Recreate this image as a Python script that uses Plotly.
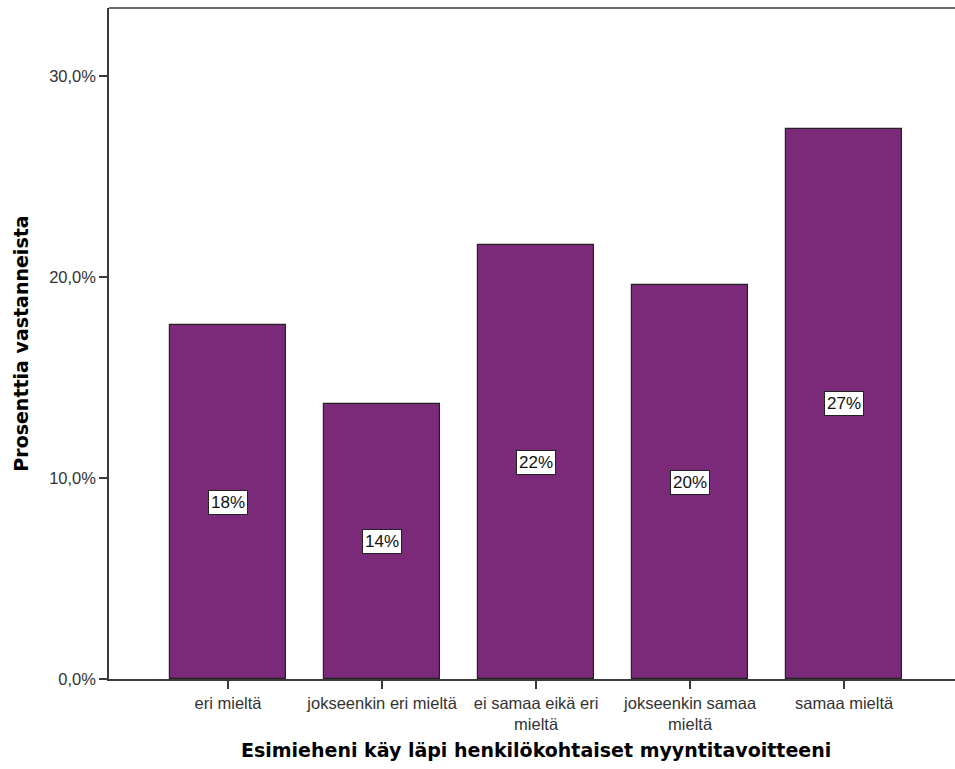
import plotly.graph_objects as go

# Survey answers: share of respondents per answer option (%)
categories = [
    "eri mieltä",
    "jokseenkin eri mieltä",
    "ei samaa eikä eri<br>mieltä",
    "jokseenkin samaa<br>mieltä",
    "samaa mieltä",
]
percentages = [17.6, 13.7, 21.6, 19.6, 27.4]

y_tick_values = [0, 10, 20, 30]
y_tick_labels = ["0,0%", "10,0%", "20,0%", "30,0%"]

x_title = "Esimieheni käy läpi henkilökohtaiset myyntitavoitteeni"
y_title = "Prosenttia vastanneista"

BAR_COLOR = "#7b2979"
AXIS_COLOR = "#3a3a3a"
TICK_FONT = dict(family="Liberation Sans, Arial, sans-serif", size=16.5, color="#333333")
TITLE_FONT = dict(family="DejaVu Sans, Verdana, sans-serif", size=19, color="#000000")

x_pos = list(range(len(categories)))

fig = go.Figure()
fig.add_trace(go.Bar(
    x=x_pos,
    y=percentages,
    width=0.753,
    marker=dict(color=BAR_COLOR, line=dict(color="#222222", width=1.2)),
    hoverinfo="skip",
))

# value labels in white boxes, centred on each bar
for xi, v in zip(x_pos, percentages):
    fig.add_annotation(
        x=xi, y=v / 2, xref="x", yref="y",
        text=f"{round(v):d}%",
        showarrow=False,
        font=dict(family="Liberation Sans, Arial, sans-serif", size=17, color="#111111"),
        bgcolor="white", bordercolor="#222222", borderwidth=1, borderpad=2,
    )

# axis titles
fig.add_annotation(
    x=2, y=-0.106, xref="x", yref="paper",
    text=f"<b>{x_title}</b>", showarrow=False,
    xanchor="center", yanchor="middle", font=TITLE_FONT,
)
fig.add_annotation(
    x=-0.105, y=0.5, xref="paper", yref="paper",
    text=f"<b>{y_title}</b>", showarrow=False, textangle=-90,
    xanchor="center", yanchor="middle", font=TITLE_FONT,
)

# top frame line of the plot area
fig.add_shape(type="line", xref="paper", yref="paper",
              x0=0, x1=1, y0=1, y1=1,
              line=dict(color=AXIS_COLOR, width=1.5))

fig.update_layout(
    width=955, height=769,
    margin=dict(l=109, r=0, t=8, b=90),
    paper_bgcolor="white", plot_bgcolor="white",
    showlegend=False,
    bargap=0,
    xaxis=dict(
        range=[-0.773, 4.72],
        tickvals=x_pos, ticktext=categories,
        ticks="outside", ticklen=8, tickwidth=1.5, tickcolor=AXIS_COLOR,
        showline=True, linecolor=AXIS_COLOR, linewidth=1.5,
        showgrid=False, zeroline=False,
        tickfont=TICK_FONT,
    ),
    yaxis=dict(
        range=[0, 33.4],
        tickvals=y_tick_values, ticktext=y_tick_labels,
        ticks="outside", ticklen=8, tickwidth=1.5, tickcolor=AXIS_COLOR,
        showline=True, linecolor=AXIS_COLOR, linewidth=1.5,
        showgrid=False, zeroline=False,
        tickfont=TICK_FONT,
    ),
)

fig.write_html("out.html")
